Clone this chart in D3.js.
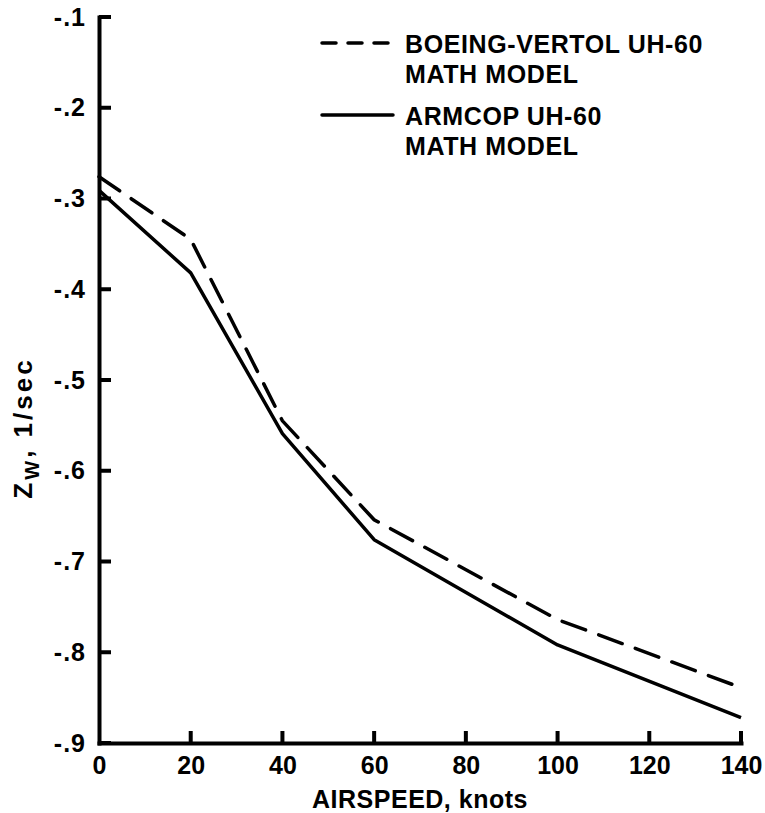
<!DOCTYPE html>
<html>
<head>
<meta charset="utf-8">
<script src="https://cdn.jsdelivr.net/npm/d3@7"></script>
<style>
  body { margin: 0; background: #fff; }
  svg text { font-family: "Liberation Sans", Arial, Helvetica, sans-serif; fill: #000; }
</style>
</head>
<body>
<div class="svg-container"></div>
<script>
var width = 765,
  height = 813;

var margin = {top: 17, right: 24, bottom: 70, left: 99};

// data
var airspeed = [0, 20, 40, 60, 100, 140];
var boeingVertol = [-0.276, -0.345, -0.545, -0.654, -0.764, -0.839];
var armcop = [-0.291, -0.382, -0.559, -0.676, -0.792, -0.872];

var xTicks = [0, 20, 40, 60, 80, 100, 120, 140];
var yTicks = [-0.1, -0.2, -0.3, -0.4, -0.5, -0.6, -0.7, -0.8, -0.9];
var yTickLabels = ["-.1", "-.2", "-.3", "-.4", "-.5", "-.6", "-.7", "-.8", "-.9"];

var legendNames = [["BOEING-VERTOL UH-60", "MATH MODEL"], ["ARMCOP UH-60", "MATH MODEL"]];

var svg = d3.select(".svg-container").append("svg")
  .attr("width", width)
  .attr("height", height);

var x = d3.scaleLinear().domain([0, 140]).range([margin.left, width - margin.right]);
var y = d3.scaleLinear().domain([-0.1, -0.9]).range([margin.top, height - margin.bottom]);

// axes (labels + domain), tick marks drawn inward below
var yAxis = d3.axisLeft(y)
  .tickValues(yTicks)
  .tickFormat(function(d, i) { return yTickLabels[i]; })
  .tickSize(0)
  .tickPadding(13);

var xAxis = d3.axisBottom(x)
  .tickValues(xTicks)
  .tickSize(0)
  .tickPadding(13);

var gy = svg.append("g")
  .attr("transform", "translate(" + margin.left + ",0)")
  .call(yAxis);

var gx = svg.append("g")
  .attr("transform", "translate(0," + (height - margin.bottom) + ")")
  .call(xAxis);

[gx, gy].forEach(function(g) {
  g.select(".domain").attr("stroke", "#000").attr("stroke-width", 4).attr("stroke-linecap", "square");
  g.selectAll(".tick text")
    .style("font-size", "25px")
    .style("font-weight", "bold");
});
gy.selectAll(".tick text").style("letter-spacing", "1px");

// inward tick marks
var tickLen = 12;
svg.append("g").attr("class", "yticks").selectAll("rect")
  .data(yTicks)
  .enter().append("rect")
  .attr("x", margin.left)
  .attr("y", function(d) { return y(d) - 2; })
  .attr("width", tickLen)
  .attr("height", 4)
  .attr("fill", "#000");

svg.append("g").attr("class", "xticks").selectAll("rect")
  .data(xTicks.slice(1))
  .enter().append("rect")
  .attr("x", function(d) { return x(d) - 2; })
  .attr("y", height - margin.bottom - tickLen)
  .attr("width", 4)
  .attr("height", tickLen)
  .attr("fill", "#000");

// lines
var line = d3.line()
  .x(function(d) { return x(d[0]); })
  .y(function(d) { return y(d[1]); });

svg.append("path")
  .datum(d3.zip(airspeed, boeingVertol))
  .attr("d", line)
  .attr("fill", "none")
  .attr("stroke", "#000")
  .attr("stroke-width", 3.5)
  .attr("stroke-linecap", "round")
  .attr("stroke-dasharray", "25,14");

svg.append("path")
  .datum(d3.zip(airspeed, armcop))
  .attr("d", line)
  .attr("fill", "none")
  .attr("stroke", "#000")
  .attr("stroke-width", 3.5)
  .attr("stroke-linejoin", "round");

// legend
var legend = svg.append("g").attr("transform", "translate(322,43)");
legendNames.forEach(function(names, i) {
  var row = legend.append("g").attr("transform", "translate(0," + (i * 72) + ")");
  row.append("line")
    .attr("x1", 0).attr("x2", 71)
    .attr("y1", 0).attr("y2", 0)
    .attr("stroke", "#000")
    .attr("stroke-width", 3.5)
    .attr("stroke-linecap", "round")
    .attr("stroke-dasharray", i === 0 ? "14,12" : null);
  names.forEach(function(t, j) {
    row.append("text")
      .attr("x", 83)
      .attr("y", 10 + j * 30)
      .style("font-size", "25px")
      .style("font-weight", "bold")
      .style("letter-spacing", "0.6px")
      .text(t);
  });
});

// axis titles
svg.append("text")
  .attr("x", (margin.left + width - margin.right) / 2)
  .attr("y", 808)
  .attr("text-anchor", "middle")
  .style("font-size", "25px")
  .style("font-weight", "bold")
  .style("letter-spacing", "0.5px")
  .text("AIRSPEED, knots");

var yTitle = svg.append("text")
  .attr("transform", "translate(32,428) rotate(-90)")
  .attr("text-anchor", "middle")
  .style("font-size", "26px")
  .style("font-weight", "bold")
  .style("letter-spacing", "3px");
yTitle.append("tspan").text("Z");
yTitle.append("tspan").attr("dy", 7).style("font-size", "20px").text("W");
yTitle.append("tspan").attr("dy", -7).text(",  1/sec");
</script>
</body>
</html>
